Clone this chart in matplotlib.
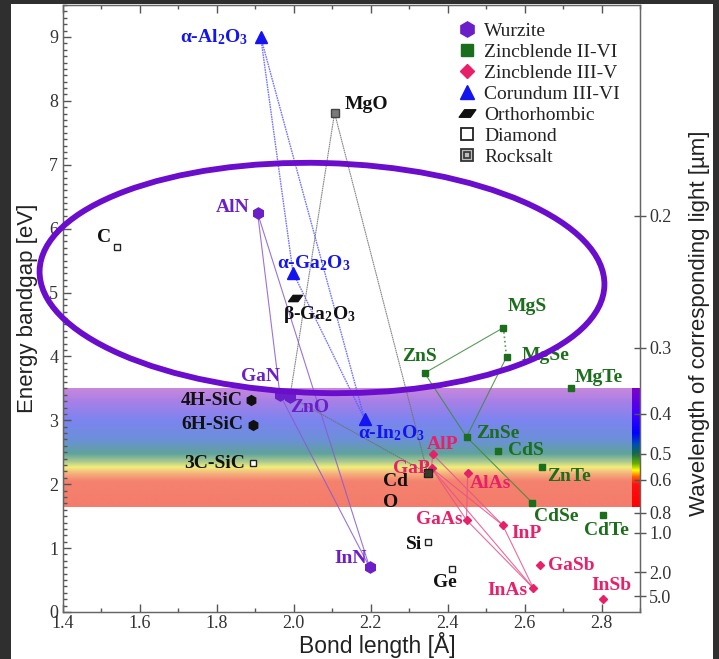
import numpy as np
import matplotlib
matplotlib.use('Agg')
import matplotlib.pyplot as plt
from matplotlib.patches import Ellipse, Rectangle
from matplotlib.path import Path
from matplotlib.lines import Line2D
from matplotlib.transforms import IdentityTransform
from matplotlib.colors import LinearSegmentedColormap
from matplotlib.ticker import MultipleLocator

plt.rcParams['mathtext.fontset'] = 'custom'
plt.rcParams['mathtext.rm'] = 'Liberation Serif'
plt.rcParams['mathtext.bf'] = 'Liberation Serif:bold'
plt.rcParams['mathtext.it'] = 'Liberation Serif:italic'

# ---------------- data ----------------
wz_names = ['AlN', 'GaN', 'ZnO', 'InN']
wz_x = [1.906, 1.964, 1.990, 2.197]
wz_y = [6.24, 3.40, 3.37, 0.70]

sic_names = ['4H-SiC', '6H-SiC']
sic_x = [1.890, 1.894]
sic_y = [3.32, 2.93]

iivi_names = ['MgS', 'MgSe', 'ZnS', 'MgTe', 'ZnSe', 'CdS', 'ZnTe', 'CdSe', 'CdTe']
iivi_x = [2.545, 2.553, 2.340, 2.720, 2.449, 2.530, 2.644, 2.620, 2.805]
iivi_y = [4.45, 3.99, 3.74, 3.51, 2.74, 2.52, 2.27, 1.71, 1.52]

iiiv_names = ['AlP', 'GaP', 'AlAs', 'GaAs', 'InP', 'GaSb', 'InAs', 'InSb']
iiiv_x = [2.361, 2.358, 2.452, 2.449, 2.543, 2.639, 2.623, 2.805]
iiiv_y = [2.47, 2.25, 2.17, 1.44, 1.36, 0.73, 0.37, 0.20]

cor_names = ['Al2O3', 'Ga2O3a', 'In2O3']
cor_x = [1.914, 1.998, 2.184]
cor_y = [9.00, 5.31, 3.02]

ortho_names = ['Ga2O3b']
ortho_x = [2.003]
ortho_y = [4.91]

dia_names = ['C', 'Si', 'Ge', '3C-SiC']
dia_x = [1.540, 2.350, 2.410, 1.894]
dia_y = [5.71, 1.10, 0.68, 2.33]

rs_names = ['MgO', 'CdO']
rs_x = [2.106, 2.348]
rs_y = [7.81, 2.17]

wz_links = [('AlN', 'GaN'), ('AlN', 'InN'), ('GaN', 'InN')]
cor_links = [('Al2O3', 'Ga2O3a'), ('Al2O3', 'In2O3'), ('Ga2O3a', 'In2O3')]
rs_links = [('MgO', 'ZnO'), ('MgO', 'CdO'), ('ZnO', 'CdO')]
iivi_links = [('ZnS', 'MgS'), ('MgSe', 'ZnSe'), ('ZnS', 'ZnSe'), ('ZnSe', 'CdSe')]
iivi_dotted = [('MgS', 'MgSe')]
iiiv_links = [('AlP', 'GaP'), ('AlP', 'InP'), ('GaP', 'InP'), ('GaP', 'GaAs'),
              ('AlAs', 'GaAs'), ('GaAs', 'InAs'), ('InP', 'InAs'), ('GaP', 'InAs')]

wl_ticks = [0.2, 0.3, 0.4, 0.5, 0.6, 0.8, 1.0, 2.0, 5.0]
wl_labels = ['0.2', '0.3', '0.4', '0.5', '0.6', '0.8', '1.0', '2.0', '5.0']
band_lo, band_hi = 1.65, 3.5

legend_labels = ['Wurzite', 'Zincblende II-VI', 'Zincblende III-V', 'Corundum III-VI',
                 'Orthorhombic', 'Diamond', 'Rocksalt']

# ---------------- styles ----------------
C_WZ = '#6a1fc8'
C_IIVI = '#1b6e1b'
C_IIIV = '#e8206a'
C_COR = '#1414f0'
C_BLK = '#111111'

pts = {}
for names, xs, ys in [(wz_names, wz_x, wz_y), (sic_names, sic_x, sic_y),
                      (iivi_names, iivi_x, iivi_y), (iiiv_names, iiiv_x, iiiv_y),
                      (cor_names, cor_x, cor_y), (ortho_names, ortho_x, ortho_y),
                      (dia_names, dia_x, dia_y), (rs_names, rs_x, rs_y)]:
    for n, x, y in zip(names, xs, ys):
        pts[n] = (x, y)

W, H = 719, 659
fig = plt.figure(figsize=(W / 100, H / 100), dpi=100, facecolor='#2f2f2f')
fig.patches.append(Rectangle((11 / W, 0), (713 - 11) / W, (H - 4) / H,
                             transform=fig.transFigure, facecolor='white',
                             edgecolor='none', zorder=-10))
ax = fig.add_axes([63 / W, (H - 612) / H, (640 - 63) / W, (612 - 5) / H])
ax.set_zorder(1)
ax.set_xlim(1.4, 2.9)
ax.set_ylim(0, 9.5)

# rainbow band
def pos(e):
    return (e - band_lo) / (band_hi - band_lo)

faded = LinearSegmentedColormap.from_list('faded', [
    (0.0, '#f47c6c'), (pos(2.05), '#f4826e'), (pos(2.17), '#f5b07e'),
    (pos(2.27), '#f2ee7a'), (pos(2.36), '#a8c890'), (pos(2.48), '#5fa29c'),
    (pos(2.70), '#6c90d8'), (pos(3.00), '#7c84f0'), (pos(3.30), '#a880e6'),
    (1.0, '#c888dc')])
sat = LinearSegmentedColormap.from_list('sat', [
    (0.0, '#ff0000'), (pos(2.0), '#ff1010'), (pos(2.12), '#ff6000'),
    (pos(2.22), '#ffff00'), (pos(2.32), '#70b000'), (pos(2.47), '#107040'),
    (pos(2.62), '#0050b0'), (pos(2.80), '#0000ff'), (pos(3.10), '#4000ff'),
    (1.0, '#8000c8')])
grad = np.linspace(0, 1, 256).reshape(-1, 1)
ax.imshow(grad, cmap=faded, extent=[1.4, 2.9, band_lo, band_hi], origin='lower',
          aspect='auto', zorder=0.5, interpolation='bilinear')
ax.imshow(grad, cmap=sat, extent=[2.879, 2.9, band_lo, band_hi], origin='lower',
          aspect='auto', zorder=0.6, interpolation='bilinear')
ax.set_xlim(1.4, 2.9)
ax.set_ylim(0, 9.5)

# links
def draw_links(links, color, ls='-', lw=0.8, alpha=0.85):
    for a, b in links:
        ax.plot([pts[a][0], pts[b][0]], [pts[a][1], pts[b][1]], color=color,
                ls=ls, lw=lw, alpha=alpha, zorder=2)

draw_links(wz_links, '#8a5ad0')
draw_links(cor_links, '#5a5aff', ls=(0, (1.2, 0.6)), lw=1.0)
draw_links(rs_links, '#707070', ls=(0, (1.5, 0.5)))
draw_links(iivi_links, '#3e8a3e')
draw_links(iivi_dotted, '#3e8a3e', ls=':', lw=1.2)
draw_links(iiiv_links, '#e8508a')

# markers
para = Path([(-1.0, -0.45), (0.35, -0.45), (1.0, 0.45), (-0.35, 0.45), (-1.0, -0.45)],
            [Path.MOVETO, Path.LINETO, Path.LINETO, Path.LINETO, Path.CLOSEPOLY])
ax.plot(wz_x, wz_y, 'h', color=C_WZ, ms=8, zorder=4)
ax.plot(sic_x, sic_y, 'h', color=C_BLK, ms=7, zorder=4)
ax.plot(iivi_x, iivi_y, 's', color=C_IIVI, ms=4.5, zorder=4)
ax.plot(iiiv_x, iiiv_y, 'D', color=C_IIIV, ms=4, zorder=4)
ax.plot(cor_x, cor_y, '^', color=C_COR, ms=8, zorder=4)
ax.plot(ortho_x, ortho_y, marker=para, ls='none', color=C_BLK, ms=10, zorder=4)
ax.plot(dia_x, dia_y, 's', mfc='white', mec='#222222', mew=1.0, ms=5, zorder=4)
ax.plot(rs_x[:1], rs_y[:1], 's', mfc='#7a7a7a', mec='#444444', mew=1.0, ms=5.5, zorder=4)
ax.plot(rs_x[1:], rs_y[1:], 's', mfc='#3a3a2a', mec='#222222', mew=1.0, ms=6, zorder=4)

# labels
lab = {
    'AlN': ('AlN', C_WZ, -8, 6, 'right'),
    'GaN': ('GaN', C_WZ, 0, 18, 'right'),
    'ZnO': ('ZnO', C_WZ, 0, -11, 'left'),
    'InN': ('InN', C_WZ, -3, 9, 'right'),
    '4H-SiC': ('4H-SiC', C_BLK, -9, -1, 'right'),
    '6H-SiC': ('6H-SiC', C_BLK, -10, 0, 'right'),
    'MgS': ('MgS', C_IIVI, 4, 21, 'left'),
    'MgSe': ('MgSe', C_IIVI, 15, 2, 'left'),
    'ZnS': ('ZnS', C_IIVI, -5, 17, 'center'),
    'MgTe': ('MgTe', C_IIVI, 4, 10, 'left'),
    'ZnSe': ('ZnSe', C_IIVI, 10, 3, 'left'),
    'CdS': ('CdS', C_IIVI, 10, 0, 'left'),
    'ZnTe': ('ZnTe', C_IIVI, 6, -10, 'left'),
    'CdSe': ('CdSe', C_IIVI, 2, -14, 'left'),
    'CdTe': ('CdTe', C_IIVI, 3, -16, 'center'),
    'AlP': ('AlP', C_IIIV, -6, 10, 'left'),
    'GaP': ('GaP', C_IIIV, -2, 0, 'right'),
    'AlAs': ('AlAs', C_IIIV, 2, -10, 'left'),
    'GaAs': ('GaAs', C_IIIV, -4, 0, 'right'),
    'InP': ('InP', C_IIIV, 9, -8, 'left'),
    'GaSb': ('GaSb', C_IIIV, 8, 0, 'left'),
    'InAs': ('InAs', C_IIIV, -6, -2, 'right'),
    'InSb': ('InSb', C_IIIV, 8, 14, 'center'),
    'Al2O3': ('α-Al$_\\mathbf{2}$O$_\\mathbf{3}$', C_COR, -13, 0, 'right'),
    'Ga2O3a': ('α-Ga$_\\mathbf{2}$O$_\\mathbf{3}$', C_COR, -16, 10, 'left'),
    'In2O3': ('α-In$_\\mathbf{2}$O$_\\mathbf{3}$', C_COR, -7, -14, 'left'),
    'Ga2O3b': ('β-Ga$_\\mathbf{2}$O$_\\mathbf{3}$', C_BLK, -12, -16, 'left'),
    'C': ('C', C_BLK, -6, 10, 'right'),
    'Si': ('Si', C_BLK, -6, -3, 'right'),
    'Ge': ('Ge', C_BLK, -7, -14, 'center'),
    '3C-SiC': ('3C-SiC', C_BLK, -8, 0, 'right'),
    'MgO': ('MgO', C_BLK, 10, 8, 'left'),
}
for key, (txt, col, dx, dy, ha) in lab.items():
    ax.annotate(txt, pts[key], xytext=(dx, dy), textcoords='offset pixels',
                ha=ha, va='center', color=col, fontsize=14, fontweight='bold',
                family='Liberation Serif', zorder=5)
ax.annotate('Cd', pts['CdO'], xytext=(-45, -8), textcoords='offset pixels', ha='left',
            va='center', color=C_BLK, fontsize=14, fontweight='bold',
            family='Liberation Serif', zorder=5)
ax.annotate('O', pts['CdO'], xytext=(-45, -29), textcoords='offset pixels', ha='left',
            va='center', color=C_BLK, fontsize=14, fontweight='bold',
            family='Liberation Serif', zorder=5)

# axes styling
tick_font = dict(family='Liberation Serif', size=13)
ax.xaxis.set_minor_locator(MultipleLocator(0.1))
ax.yaxis.set_minor_locator(MultipleLocator(0.1))
ax.tick_params(which='both', direction='in', top=True, right=False, colors='#555555',
               labelcolor='#333333', width=1.0)
ax.tick_params(which='major', length=6)
ax.tick_params(which='minor', length=3)
xt = [1.4, 1.6, 1.8, 2.0, 2.2, 2.4, 2.6, 2.8]
ax.set_xticks(xt)
ax.set_xticklabels(['%.1f' % v for v in xt], **tick_font)
ax.set_yticks(range(10))
ax.set_yticklabels([str(v) for v in range(10)], **tick_font)
ax.tick_params(axis='x', pad=2)
for s in ax.spines.values():
    s.set_color('#666666')
    s.set_linewidth(1.0)

ax2 = ax.twinx()
ax2.set_zorder(2)
ax2.set_ylim(0, 9.5)
ax2.set_yticks([1.24 / w for w in wl_ticks])
ax2.set_yticklabels(wl_labels, **tick_font)
ax2.tick_params(direction='inout', length=9, width=1.0, colors='#555555',
                labelcolor='#333333', pad=2)
for s in ax2.spines.values():
    s.set_color('#666666')

ax.set_ylabel('Energy bandgap [eV]', family='Liberation Sans', fontsize=16,
              color='#222222', labelpad=8)
fig.text(377 / W, 1 - 645 / H, 'Bond length [Å]', family='Liberation Sans',
         fontsize=16.5, color='#222222', ha='center', va='center')
fig.text(700 / W, 1 - 323 / H, 'Wavelength of corresponding light [µm]',
         family='Liberation Sans', fontsize=16, color='#222222', ha='center',
         va='center', rotation=90)

# legend
h_rs = (Line2D([], [], marker='s', ls='none', mfc='#bdbdbd', mec='#333333', mew=1.3, ms=9),
        Line2D([], [], marker='s', ls='none', mfc='none', mec='#333333', mew=1.2, ms=4))
handles = [Line2D([], [], marker='h', ls='none', color=C_WZ, ms=11),
           Line2D([], [], marker='s', ls='none', color=C_IIVI, ms=8),
           Line2D([], [], marker='D', ls='none', color=C_IIIV, ms=7.5),
           Line2D([], [], marker='^', ls='none', color=C_COR, ms=10),
           Line2D([], [], marker=para, ls='none', color=C_BLK, ms=12),
           Line2D([], [], marker='s', ls='none', mfc='white', mec='#222222', mew=1.3, ms=9),
           h_rs]
leg = ax2.legend(handles, legend_labels, loc='upper left',
                 bbox_to_anchor=((457 - 63) / 577, 1 - (22 - 5) / 607),
                 frameon=False, borderpad=0, borderaxespad=0, handlelength=1.0,
                 handletextpad=0.4, labelspacing=0.18,
                 prop=dict(family='Liberation Serif', size=14))
for t in leg.get_texts():
    t.set_color('#222222')

# highlight ellipse (drawn in pixel space)
ell = Ellipse((322, H - 278), 565, 230, angle=-1.5, transform=IdentityTransform(),
              facecolor='none', edgecolor='#6a0dcc', lw=4.2, zorder=10)
fig.add_artist(ell)

fig.savefig('out.png', dpi=100, facecolor=fig.get_facecolor())
